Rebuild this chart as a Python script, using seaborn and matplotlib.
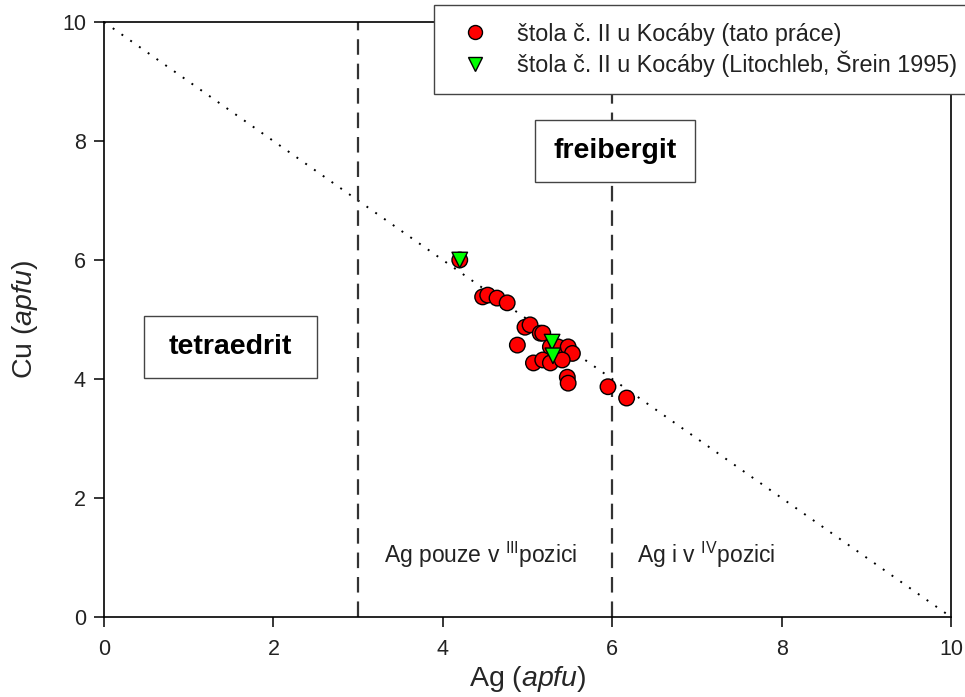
import matplotlib
matplotlib.use("Agg")
import matplotlib.pyplot as plt
from matplotlib.patches import Rectangle
import seaborn as sns
import pandas as pd

# Tetrahedrite-group analyses: Ag vs Cu (apfu)
ag_this_work = [4.20, 4.47, 4.53, 4.64, 4.76, 4.97, 5.03, 5.15, 5.18, 4.88, 5.27, 5.36,
                5.48, 5.53, 5.07, 5.18, 5.27, 5.41, 5.47, 5.48, 5.95, 6.17]
cu_this_work = [6.00, 5.38, 5.41, 5.36, 5.28, 4.87, 4.91, 4.77, 4.77, 4.57, 4.54, 4.54,
                4.54, 4.43, 4.27, 4.32, 4.27, 4.32, 4.03, 3.93, 3.87, 3.68]
ag_lit = [4.20, 5.29, 5.30]
cu_lit = [6.00, 4.62, 4.39]

label_this = "štola č. II u Kocáby (tato práce)"
label_lit = "štola č. II u Kocáby (Litochleb, Šrein 1995)"

df = pd.concat([
    pd.DataFrame({"Ag": ag_this_work, "Cu": cu_this_work, "src": label_this}),
    pd.DataFrame({"Ag": ag_lit, "Cu": cu_lit, "src": label_lit}),
], ignore_index=True)

sns.set_theme(style="white")
plt.rcParams["font.family"] = ["Liberation Sans", "DejaVu Sans"]
plt.rcParams["mathtext.fontset"] = "custom"
plt.rcParams["mathtext.rm"] = "Liberation Sans"
plt.rcParams["mathtext.it"] = "Liberation Sans:italic"
plt.rcParams["mathtext.bf"] = "Liberation Sans:bold"
plt.rcParams["text.color"] = "#222222"

fig = plt.figure(figsize=(9.65, 6.97), dpi=100)
ax = fig.add_axes([0.1078, 0.1148, 0.8777, 0.8536])

# Cu + Ag = 10 line and the Ag-position boundaries
ax.plot([0, 10], [10, 0], color="black", linestyle=(0, (1, 4.5)), linewidth=1.4, zorder=1)
for xv in (3, 6):
    ax.axvline(xv, color="#333333", linestyle=(0, (7, 4)), linewidth=1.6, zorder=1)

sns.scatterplot(data=df, x="Ag", y="Cu", hue="src", style="src",
                palette={label_this: "#ff0000", label_lit: "#00ff00"},
                markers={label_this: "o", label_lit: "v"},
                s=125, edgecolor="black", linewidth=1.0,
                ax=ax, zorder=3, legend=True)

ax.set_xlim(0, 10)
ax.set_ylim(0, 10)
ax.set_xticks(range(0, 11, 2))
ax.set_yticks(range(0, 11, 2))
ax.tick_params(axis="both", direction="out", length=7, width=1.1, colors="black",
               labelcolor="#222222", labelsize=15.5, bottom=True, left=True)
ax.tick_params(axis="x", pad=9)
ax.tick_params(axis="y", pad=6)
for sp in ax.spines.values():
    sp.set_visible(True)
    sp.set_color("black")
    sp.set_linewidth(1.2)

ax.set_xlabel("Ag ($\\mathit{apfu}$)", fontsize=20.5, labelpad=3)
ax.set_ylabel("Cu ($\\mathit{apfu}$)", fontsize=20.5, labelpad=16)

# mineral field labels in framed boxes
for (x0, y0, w, h), (tx, ty), name in [
    ((5.09, 7.31, 1.89, 1.04), (6.03, 7.83), "freibergit"),
    ((0.47, 4.02, 2.04, 1.04), (1.49, 4.54), "tetraedrit"),
]:
    ax.add_patch(Rectangle((x0, y0), w, h, facecolor="white", edgecolor="#444444",
                           linewidth=1, zorder=4))
    ax.text(tx, ty, name, fontsize=20.5, fontweight="bold", color="black",
            ha="center", va="center", zorder=5)

ax.text(4.45, 1.04, "Ag pouze v $^{\\mathrm{III}}$pozici", fontsize=16.5, ha="center", va="center")
ax.text(7.11, 1.04, "Ag i v $^{\\mathrm{IV}}$pozici", fontsize=16.5, ha="center", va="center")

handles, labels = ax.get_legend_handles_labels()
if ax.get_legend() is not None:
    ax.get_legend().remove()
leg = fig.legend(handles, labels, loc="upper left", bbox_to_anchor=(0.4497, 0.9928),
                 borderaxespad=0, fontsize=16.8, frameon=True, fancybox=False,
                 edgecolor="#444444", borderpad=0.75, labelspacing=0.2,
                 handletextpad=0.8, markerscale=0.9, framealpha=1)
leg.get_frame().set_linewidth(1)

fig.savefig("out.png", dpi=100)
